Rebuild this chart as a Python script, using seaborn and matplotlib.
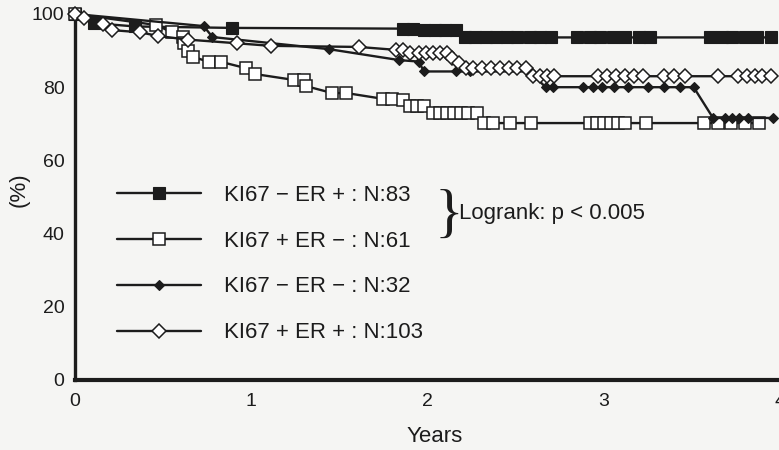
import numpy as np
import pandas as pd
import matplotlib

matplotlib.use("Agg")
import matplotlib.pyplot as plt
import seaborn as sns

# ----------------------------------------------------------------------
# Data (years, % surviving)
# ----------------------------------------------------------------------
ki_neg_er_pos_t = [0, 0.11, 0.34, 0.89, 1.86, 1.92, 1.98, 2.04, 2.10, 2.16,
                   2.21, 2.27, 2.33, 2.39, 2.45, 2.51, 2.58, 2.64, 2.70,
                   2.85, 2.92, 2.98, 3.05, 3.12, 3.20, 3.26,
                   3.60, 3.67, 3.73, 3.80, 3.87, 3.95]
ki_neg_er_pos_s = [100, 97.5, 96.6, 96.2, 96.0, 95.8, 95.6, 95.6, 95.6, 95.6,
                   93.6, 93.6, 93.6, 93.6, 93.6, 93.6, 93.6, 93.6, 93.6,
                   93.6, 93.6, 93.6, 93.6, 93.6, 93.6, 93.6,
                   93.6, 93.6, 93.6, 93.6, 93.6, 93.6]

ki_pos_er_neg_t = [0, 0.46, 0.55, 0.61, 0.62, 0.64, 0.67, 0.76, 0.83, 0.97,
                   1.02, 1.24, 1.30, 1.31, 1.46, 1.54, 1.75, 1.80, 1.86,
                   1.90, 1.94, 1.98, 2.03, 2.07, 2.11, 2.15, 2.19, 2.23,
                   2.28, 2.32, 2.37, 2.47, 2.59, 2.92, 2.96, 3.00, 3.04,
                   3.08, 3.12, 3.24, 3.57, 3.65, 3.72, 3.80, 3.88]
ki_pos_er_neg_s = [100, 97, 95, 93.7, 92, 90, 88.3, 86.9, 86.9, 85.2,
                   83.6, 82, 82, 80.3, 78.4, 78.4, 76.8, 76.8, 76.5,
                   75, 75, 75, 73, 73, 73, 73, 73, 73,
                   73, 70.2, 70.2, 70.2, 70.2, 70.2, 70.2, 70.2, 70.2,
                   70.2, 70.2, 70.2, 70.2, 70.2, 70.2, 70.2, 70.2]

ki_neg_er_neg_t = [0, 0.73, 0.78, 1.44, 1.84, 1.95, 1.98, 2.16, 2.24, 2.58,
                   2.67, 2.71, 2.88, 2.94, 2.99, 3.06, 3.14, 3.25, 3.34,
                   3.43, 3.51, 3.62, 3.69, 3.73, 3.77, 3.82, 3.96]
ki_neg_er_neg_s = [100, 96.7, 93.7, 90.4, 87.4, 87, 84.3, 84.3, 84.3, 84.3,
                   80, 80, 80, 80, 80, 80, 80, 80, 80,
                   80, 80, 71.6, 71.6, 71.6, 71.6, 71.6, 71.6]

ki_pos_er_pos_t = [0, 0.05, 0.16, 0.21, 0.37, 0.47, 0.64, 0.92, 1.11, 1.61,
                   1.82, 1.86, 1.90, 1.95, 1.99, 2.03, 2.07, 2.11, 2.14,
                   2.18, 2.22, 2.26, 2.31, 2.36, 2.41, 2.46, 2.51, 2.56,
                   2.60, 2.64, 2.68, 2.72, 2.97, 3.02, 3.07, 3.12, 3.17,
                   3.22, 3.34, 3.40, 3.46, 3.65, 3.76, 3.81, 3.86, 3.90,
                   3.95]
ki_pos_er_pos_s = [100, 99, 97.3, 95.6, 95, 94, 93, 92, 91.3, 91,
                   90.2, 90.2, 89.3, 89.3, 89.3, 89.3, 89.3, 89.3, 88,
                   86.6, 85.2, 85.2, 85.2, 85.2, 85.2, 85.2, 85.2, 85.2,
                   83, 83, 83, 83, 83, 83, 83, 83, 83,
                   83, 83, 83, 83, 83, 83, 83, 83, 83,
                   83]

labels = ["KI67 \u2212 ER + : N:83",
          "KI67 + ER \u2212 : N:61",
          "KI67 \u2212 ER \u2212 : N:32",
          "KI67 + ER + : N:103"]

x_ticks = [0, 1, 2, 3, 4]
y_ticks = [0, 20, 40, 60, 80, 100]

INK = "#1c1c1c"
PAPER = "#f5f5f3"

sns.set_theme(style="white")
plt.rcParams["font.family"] = ["Liberation Sans", "DejaVu Sans"]

fig = plt.figure(figsize=(7.79, 4.5), dpi=100, facecolor=PAPER)
ax = fig.add_axes([75 / 779, 70 / 450, 705 / 779, 366 / 450])
ax.set_facecolor(PAPER)

series = [
    (ki_neg_er_pos_t, ki_neg_er_pos_s, dict(marker="s", ms=8, mfc=INK, mec=INK, mew=0.8)),
    (ki_pos_er_neg_t, ki_pos_er_neg_s, dict(marker="s", ms=9, mfc="white", mec=INK, mew=1.1)),
    (ki_neg_er_neg_t, ki_neg_er_neg_s, dict(marker="D", ms=5, mfc=INK, mec=INK, mew=0.8)),
    (ki_pos_er_pos_t, ki_pos_er_pos_s, dict(marker="D", ms=7.5, mfc="white", mec=INK, mew=1.1)),
]

for (t, s, mk), lab in zip(series, labels):
    df = pd.DataFrame({"years": t, "surv": s})
    sns.lineplot(data=df, x="years", y="surv", ax=ax, color=INK, lw=1.7,
                 sort=False, estimator=None, label=lab, clip_on=False,
                 zorder=3, **mk)

ax.set_xlim(0, 4)
ax.set_ylim(0, 100)
ax.set_xticks(x_ticks)
ax.set_yticks(y_ticks)

for side in ["top", "right"]:
    ax.spines[side].set_visible(False)
ax.spines["left"].set_linewidth(2.4)
ax.spines["bottom"].set_linewidth(3.0)
ax.spines["left"].set_color(INK)
ax.spines["bottom"].set_color(INK)
ax.spines["bottom"].set_zorder(5)

ax.tick_params(axis="both", direction="inout", length=9, width=1.8,
               color=INK, labelcolor=INK, labelsize=14)
ax.tick_params(axis="x", pad=5)
ax.tick_params(axis="y", pad=3)

ax.set_xlabel("Years", fontsize=16, color=INK)
ax.xaxis.set_label_coords(0.51, -0.125)
ax.set_ylabel("(%)", fontsize=16, color=INK)
ax.yaxis.set_label_coords(-0.065, 0.52)

handles, labs = ax.get_legend_handles_labels()
leg = ax.legend(handles, labs, loc="center left",
                bbox_to_anchor=(117 / 779, 1 - 264 / 450),
                bbox_transform=fig.transFigure, frameon=False,
                fontsize=16, handlelength=3.8, handletextpad=1.0,
                labelspacing=1.12, borderpad=0, borderaxespad=0,
                numpoints=1)
for txt in leg.get_texts():
    txt.set_color(INK)

ax.text(0.531, 0.445, "}", transform=ax.transAxes, fontsize=43,
        family=["Liberation Serif", "DejaVu Serif"], color=INK,
        ha="center", va="center")
ax.text(0.545, 0.456, "Logrank: p < 0.005", transform=ax.transAxes,
        fontsize=16, color=INK, ha="left", va="center")

fig.savefig("out.png", dpi=100, facecolor=PAPER)
